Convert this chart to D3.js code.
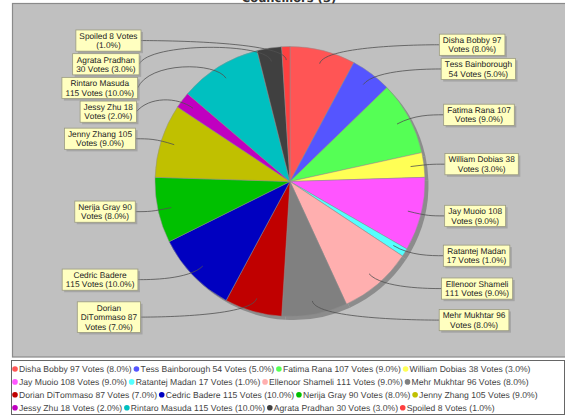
<!DOCTYPE html>
<html>
<head>
<meta charset="utf-8">
<script src="https://cdn.jsdelivr.net/npm/d3@7/dist/d3.min.js"></script>
<style>
  body { margin: 0; background: #ffffff; }
  svg { display: block; }
  text { text-rendering: geometricPrecision; font-kerning: none; font-feature-settings: "kern" 0; }
</style>
</head>
<body>
<svg id="chart" width="565" height="416"></svg>
<script>
// Ballot results: candidate, raw votes, and the vote share shown in each label
const candidates = [
  "Disha Bobby", "Tess Bainborough", "Fatima Rana", "William Dobias",
  "Jay Muoio", "Ratantej Madan", "Ellenoor Shameli", "Mehr Mukhtar",
  "Dorian DiTommaso", "Cedric Badere", "Nerija Gray", "Jenny Zhang",
  "Jessy Zhu", "Rintaro Masuda", "Agrata Pradhan", "Spoiled"
];
const voteCounts = [97, 54, 107, 38, 108, 17, 111, 96, 87, 115, 90, 105, 18, 115, 30, 8];
const voteShares = [8.0, 5.0, 9.0, 3.0, 9.0, 1.0, 9.0, 8.0, 7.0, 10.0, 8.0, 9.0, 2.0, 10.0, 3.0, 1.0];
const sliceColors = [
  "#ff5555", "#5555ff", "#55ff55", "#ffff55", "#ff55ff", "#55ffff", "#ffafaf", "#808080",
  "#c00000", "#0000c0", "#00c000", "#c0c000", "#c000c0", "#00c0c0", "#404040", "#ff4040"
];
const chartTitle = "Councillors (3)";

const svg = d3.select("#chart");
const plot = { x: 12.5, y: 3.5, w: 557, h: 353.5 };
const cx = 290, cy = 181.5, R = 135, linkR = 141;
const labelFont = "Liberation Sans, Arial, sans-serif";
const labelSize = 8.3, legendSize = 8.6;

const data = candidates.map((name, i) => ({
  name, votes: voteCounts[i], share: voteShares[i], color: sliceColors[i],
  text: `${name} ${voteCounts[i]} Votes (${voteShares[i].toFixed(1)}%)`
}));

// plot background
svg.append("rect")
  .attr("x", plot.x).attr("y", plot.y).attr("width", plot.w).attr("height", plot.h)
  .attr("fill", "#c0c0c0").attr("stroke", "#8a8a8a").attr("stroke-width", 1.2);

// title (sits against the top edge of the canvas)
svg.append("text")
  .attr("x", 289).attr("y", 2)
  .attr("text-anchor", "middle")
  .attr("font-family", "DejaVu Sans, sans-serif")
  .attr("font-weight", "bold").attr("font-size", 11.5)
  .attr("fill", "#333")
  .text(chartTitle);

// pie
const arcs = d3.pie().sort(null).value(d => d.share).startAngle(0).endAngle(2 * Math.PI)(data);
const arc = d3.arc().innerRadius(0).outerRadius(R);

svg.append("g").attr("transform", `translate(${cx + 3.5},${cy + 3.5})`)
  .selectAll("path").data(arcs).join("path")
  .attr("d", arc).attr("fill", "#8c8c8c");

svg.append("g").attr("transform", `translate(${cx},${cy})`)
  .selectAll("path").data(arcs).join("path")
  .attr("d", arc)
  .attr("fill", d => d.data.color)
  .attr("stroke", "#8f8f8f").attr("stroke-width", 0.5);

// text measurement helper (unhinted, unkerned advances)
const meas = svg.append("text").attr("font-family", labelFont).attr("visibility", "hidden");
function textWidth(str, size) {
  meas.attr("font-size", size).text(str);
  return meas.node().getComputedTextLength();
}

// word wrap for section labels
const wrapWidth = 8.31 * labelSize;
function wrap(str) {
  const words = str.split(" ");
  const lines = [];
  let cur = "";
  words.forEach(w => {
    const trial = cur ? cur + " " + w : w;
    if (cur && textWidth(trial, labelSize) > wrapWidth) {
      lines.push(cur);
      cur = w;
    } else {
      cur = trial;
    }
  });
  if (cur) lines.push(cur);
  return lines;
}

const lineH = 9.4, padX = 3.5, padY = 1.2, gap = 2.5;
const labels = arcs.map(a => {
  const mid = (a.startAngle + a.endAngle) / 2;
  const lines = wrap(a.data.text);
  const w = d3.max(lines, l => textWidth(l, labelSize)) + 2 * padX;
  const h = lines.length * lineH + 2 * padY;
  const right = Math.sin(mid) >= 0;
  const elbowY = cy - Math.cos(mid) * linkR;
  return { a, mid, lines, w, h, right, ideal: elbowY, elbowY };
});

// keep labels on each side from overlapping
function distribute(list, minY, maxY) {
  list.sort((p, q) => p.ideal - q.ideal);
  list.forEach((l, i) => {
    l.y = Math.max(l.ideal, minY + l.h / 2);
    if (i > 0) {
      const prev = list[i - 1];
      l.y = Math.max(l.y, prev.y + (prev.h + l.h) / 2 + gap);
    }
  });
  for (let i = list.length - 1; i >= 0; i--) {
    const l = list[i];
    if (i === list.length - 1) l.y = Math.min(l.y, maxY - l.h / 2);
    else {
      const next = list[i + 1];
      l.y = Math.min(l.y, next.y - (next.h + l.h) / 2 - gap);
    }
  }
}
distribute(labels.filter(l => l.right), plot.y + 10, plot.y + plot.h - 8);
distribute(labels.filter(l => !l.right), plot.y + 10, plot.y + plot.h - 8);

labels.forEach(l => {
  const t = (l.y - cy) / linkR;
  const edge = 155 - 6 * t * t;
  l.edgeX = l.right ? cx + edge : cx - edge;
  l.boxX = l.right ? l.edgeX : l.edgeX - l.w;
});

// link curves
const linkG = svg.append("g");
labels.forEach(l => {
  const s = Math.sin(l.mid), c = Math.cos(l.mid);
  const p0 = [cx + s * R * 0.9, cy - c * R * 0.9];
  const c1 = [cx + s * linkR, l.elbowY];
  const c2 = [l.right ? cx + linkR : cx - linkR, l.elbowY];
  const p = d3.path();
  p.moveTo(p0[0], p0[1]);
  p.bezierCurveTo(c1[0], c1[1], c2[0], c2[1], l.edgeX, l.y);
  linkG.append("path").attr("d", p.toString())
    .attr("fill", "none").attr("stroke", "#505050").attr("stroke-width", 0.8);
});

// label boxes
const labelG = svg.append("g");
labels.forEach(l => {
  const top = l.y - l.h / 2;
  labelG.append("rect")
    .attr("x", l.boxX + 2).attr("y", top + 2).attr("width", l.w).attr("height", l.h)
    .attr("fill", "#8e8e8e").attr("fill-opacity", 0.55);
  labelG.append("rect")
    .attr("x", l.boxX).attr("y", top).attr("width", l.w).attr("height", l.h)
    .attr("fill", "#ffffc0").attr("stroke", "#9a9a80").attr("stroke-width", 0.8);
  labelG.append("text")
    .attr("font-family", labelFont).attr("font-size", labelSize).attr("fill", "#222")
    .attr("text-anchor", "middle")
    .selectAll("tspan").data(l.lines).join("tspan")
    .attr("x", l.boxX + l.w / 2)
    .attr("y", (d, i) => top + padY + (i + 0.5) * lineH)
    .attr("dominant-baseline", "central")
    .text(d => d);
});

// legend
const legend = { x: 11.5, y: 360.5, w: 553, h: 54 };
svg.append("rect")
  .attr("x", legend.x).attr("y", legend.y).attr("width", legend.w).attr("height", legend.h)
  .attr("fill", "#ffffff").attr("stroke", "#666").attr("stroke-width", 1);

const legendG = svg.append("g");
const rowH = 12.9, dotR = 2.8, maxX = 562;
let lx = 15, row = 0;
data.forEach(d => {
  const tw = textWidth(d.text, legendSize);
  const itemW = 4 + tw;
  if (lx + itemW > maxX) { row++; lx = 15; }
  const ly = 369 + row * rowH;
  legendG.append("circle").attr("cx", lx).attr("cy", ly).attr("r", dotR).attr("fill", d.color);
  legendG.append("text")
    .attr("x", lx + 4).attr("y", ly)
    .attr("dominant-baseline", "central")
    .attr("font-family", labelFont).attr("font-size", legendSize).attr("fill", "#444")
    .text(d.text);
  lx += itemW + 4.7;
});
meas.remove();
</script>
</body>
</html>
